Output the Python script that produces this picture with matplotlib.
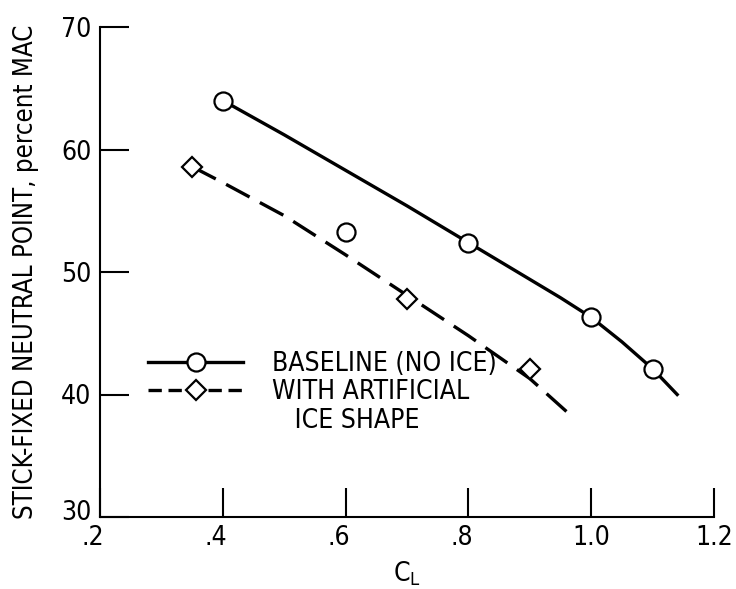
import matplotlib
matplotlib.use('Agg')
import matplotlib.pyplot as plt
from matplotlib.lines import Line2D
from matplotlib.transforms import ScaledTranslation

plt.rcParams['font.family'] = ['DejaVu Sans']
plt.rcParams['font.stretch'] = 'condensed'

# measured points
cl_base = [0.40, 0.60, 0.80, 1.00, 1.10]
np_base = [64.0, 53.3, 52.4, 46.3, 42.1]
cl_ice = [0.35, 0.70, 0.90]
np_ice = [58.6, 47.8, 42.1]

# faired curves
fair_base_x = [0.40, 0.50, 0.60, 0.70, 0.80, 0.85, 0.90, 0.95, 1.00, 1.05, 1.10, 1.14]
fair_base_y = [64.0, 61.2, 58.3, 55.4, 52.4, 50.9, 49.4, 47.9, 46.3, 44.3, 42.1, 40.0]
fair_ice_x = [0.35, 0.40, 0.50, 0.60, 0.70, 0.80, 0.90, 0.96]
fair_ice_y = [58.6, 57.3, 54.6, 51.4, 48.1, 44.8, 41.3, 38.6]

xticks = [0.4, 0.6, 0.8, 1.0, 1.2]
xlabels = ['.2', '.4', '.6', '.8', '1.0', '1.2']
yticks = [40, 50, 60, 70]

fig = plt.figure(figsize=(7.36, 5.89), dpi=100)
ax = fig.add_axes([100 / 736, 72 / 589, 614 / 736, 490 / 589])

fs = 19
ax.plot(fair_base_x, fair_base_y, color='black', lw=2.4, zorder=2)
ax.plot(fair_ice_x, fair_ice_y, color='black', lw=2.4, dashes=(8, 3.5), zorder=2)
ax.plot(cl_base, np_base, 'o', ms=13, mfc='white', mec='black', mew=1.6, zorder=3)
ax.plot(cl_ice, np_ice, 'D', ms=10, mfc='white', mec='black', mew=1.6, zorder=3)

ax.set_xlim(0.2, 1.2)
ax.set_ylim(30, 70)
ax.set_xticks([0.2] + xticks)
ax.set_xticklabels(xlabels)
ax.set_yticks([30] + yticks)
ax.tick_params(direction='in', length=21, width=1.5, labelsize=fs, pad=6)
for s in ['top', 'right']:
    ax.spines[s].set_visible(False)
for s in ['left', 'bottom']:
    ax.spines[s].set_linewidth(1.5)

# labels like ".4" hang the dot to the left of the tick
for lab in ax.get_xticklabels():
    if lab.get_text().startswith('.'):
        lab.set_transform(lab.get_transform() + ScaledTranslation(-5 / 72, 0, fig.dpi_scale_trans))
ax.get_yticklabels()[0].set_transform(
    ax.get_yticklabels()[0].get_transform() + ScaledTranslation(0, 5 / 72, fig.dpi_scale_trans))

ax.set_xlabel(r'$\mathregular{C_L}$', fontsize=fs, labelpad=6)
ax.set_ylabel('STICK-FIXED NEUTRAL POINT, percent MAC', fontsize=18.5, labelpad=16)

handles = [
    Line2D([], [], color='black', lw=2.4, marker='o', ms=13, mfc='white', mec='black', mew=1.6),
    Line2D([], [], color='black', lw=2.4, dashes=(4, 2), marker='D', ms=10, mfc='white', mec='black', mew=1.6),
    Line2D([], [], color='none'),
]
labels = ['BASELINE (NO ICE)', 'WITH ARTIFICIAL', '   ICE SHAPE']
leg = ax.legend(handles, labels, loc='upper left', bbox_to_anchor=(0.057, 0.365),
                frameon=False, fontsize=fs, handlelength=3.6, handletextpad=1.1,
                borderpad=0, labelspacing=0.08)

fig.savefig('out.png', dpi=100)
